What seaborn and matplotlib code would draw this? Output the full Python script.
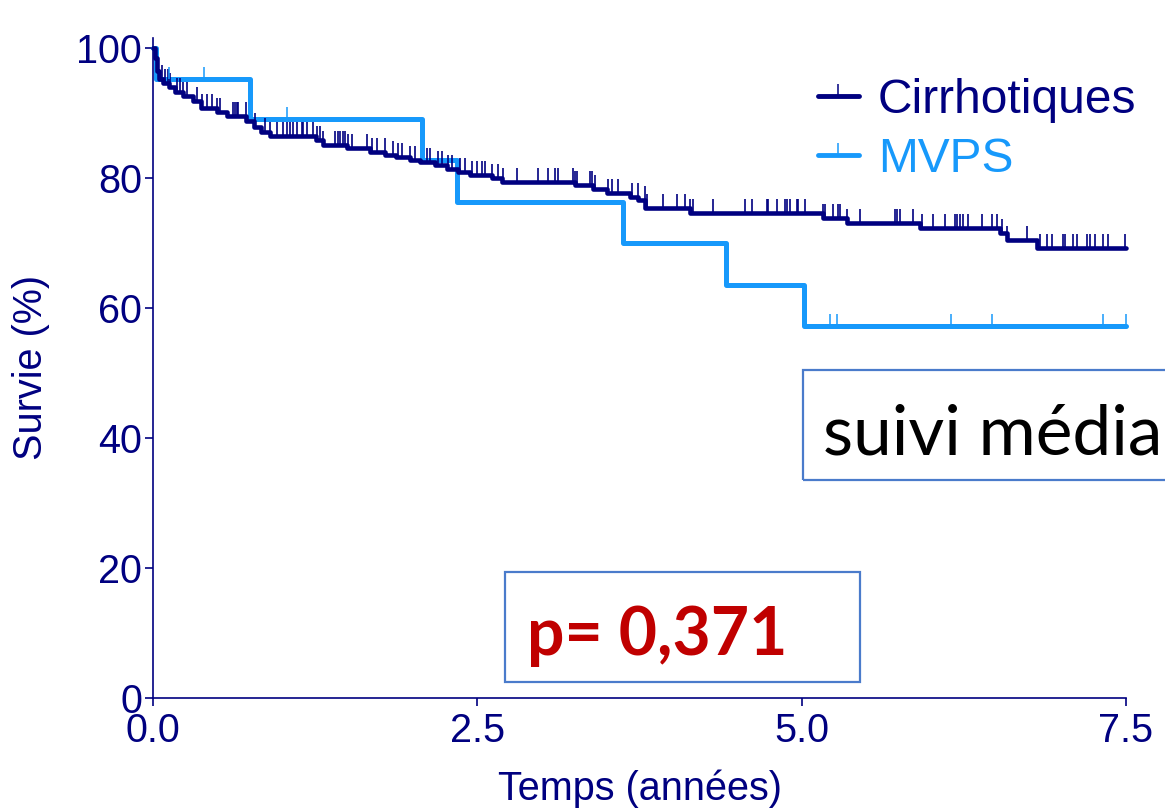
import numpy as np
import pandas as pd
import matplotlib
matplotlib.use('Agg')
import matplotlib.pyplot as plt
from matplotlib.patches import Rectangle
from matplotlib.lines import Line2D
import seaborn as sns

# Kaplan-Meier steps (time in years, survival in %)
cirr_time = [0.000, 0.015, 0.030, 0.050, 0.080, 0.120, 0.170, 0.230, 0.310, 0.370,
             0.490, 0.570, 0.720, 0.780, 0.830, 0.900, 1.260, 1.310, 1.495, 1.673,
             1.790, 1.870, 1.980, 2.060, 2.170, 2.270, 2.350, 2.440, 2.610, 2.690,
             3.253, 3.392, 3.500, 3.680, 3.740, 3.793, 4.139, 5.165, 5.350, 5.912,
             6.529, 6.583, 6.814, 7.500]
cirr_surv = [100.0, 98.5, 96.5, 95.2, 94.6, 94.0, 93.2, 92.6, 91.8, 90.8,
             90.1, 89.6, 88.8, 87.9, 87.1, 86.5, 85.8, 85.1, 84.6, 84.0,
             83.6, 83.2, 82.8, 82.5, 82.0, 81.4, 81.0, 80.5, 80.0, 79.4,
             78.9, 78.3, 77.7, 77.1, 76.6, 75.4, 74.6, 73.8, 73.1, 72.3,
             71.5, 70.5, 69.2, 69.2]
cirr_censor = [0.069, 0.092, 0.116, 0.131, 0.185, 0.208, 0.231, 0.262, 0.339, 0.378,
               0.416, 0.455, 0.493, 0.516, 0.617, 0.632, 0.647, 0.655, 0.717, 0.786,
               0.863, 0.902, 0.956, 1.002, 1.033, 1.056, 1.079, 1.110, 1.149, 1.156,
               1.187, 1.233, 1.264, 1.287, 1.310, 1.403, 1.426, 1.441, 1.464, 1.480,
               1.503, 1.534, 1.650, 1.688, 1.727, 1.788, 1.850, 1.889, 1.919, 1.981,
               2.020, 2.112, 2.135, 2.197, 2.228, 2.274, 2.305, 2.367, 2.405, 2.459,
               2.497, 2.536, 2.559, 2.613, 2.659, 2.698, 2.806, 2.968, 3.045, 3.099,
               3.122, 3.237, 3.253, 3.268, 3.369, 3.384, 3.407, 3.507, 3.538, 3.584,
               3.692, 3.738, 3.792, 3.808, 3.931, 4.039, 4.101, 4.139, 4.163, 4.317,
               4.563, 4.617, 4.733, 4.741, 4.810, 4.872, 4.887, 4.910, 4.964, 4.972,
               5.026, 5.165, 5.180, 5.242, 5.280, 5.296, 5.350, 5.450, 5.720, 5.735,
               5.758, 5.858, 5.928, 6.013, 6.105, 6.182, 6.198, 6.221, 6.244, 6.282,
               6.390, 6.467, 6.506, 6.544, 6.583, 6.737, 6.837, 6.891, 6.930, 7.015,
               7.030, 7.092, 7.122, 7.200, 7.223, 7.261, 7.323, 7.361, 7.492]

mvps_time = [0.000, 0.020, 0.750, 2.070, 2.340, 3.620, 4.420, 5.020, 7.500]
mvps_surv = [100.0, 95.2, 89.1, 82.8, 76.3, 70.0, 63.5, 57.2, 57.2]
mvps_censor = [0.12, 0.39, 1.03, 5.22, 5.27, 6.15, 6.47, 7.32, 7.50]

groups = ['Cirrhotiques', 'MVPS']
NAVY = '#000080'
LIGHT = '#1799FB'
BOX = '#4A7BCB'
W, H = 1165, 808


def fx(px):
    return px / W


def fy(py):
    return 1 - py / H


def surv_at(times, surv, t):
    idx = np.searchsorted(times, t, side='right') - 1
    return np.asarray(surv)[idx]


sns.set_theme(style='ticks')
plt.rcParams['font.family'] = ['Liberation Sans', 'DejaVu Sans']

fig = plt.figure(figsize=(W / 100, H / 100), dpi=100)
ax = fig.add_axes([fx(153), fy(698), fx(1126) - fx(153), fy(37.6) - fy(698)])

df = pd.concat([
    pd.DataFrame({'t': cirr_time, 's': cirr_surv, 'g': groups[0]}),
    pd.DataFrame({'t': mvps_time, 's': mvps_surv, 'g': groups[1]}),
])
sns.lineplot(data=df[df.g == groups[1]], x='t', y='s', color=LIGHT, lw=3.6,
             drawstyle='steps-post', estimator=None, sort=False, ax=ax, clip_on=False)
sns.lineplot(data=df[df.g == groups[0]], x='t', y='s', color=NAVY, lw=3.3,
             drawstyle='steps-post', estimator=None, sort=False, ax=ax, clip_on=False)

ax.plot(cirr_censor, surv_at(cirr_time, cirr_surv, cirr_censor), ls='none',
        marker=2, ms=10, mew=1.2, color=NAVY, clip_on=False)
ax.plot(mvps_censor, surv_at(mvps_time, mvps_surv, mvps_censor), ls='none',
        marker=2, ms=9, mew=1.1, color=LIGHT, clip_on=False)

ax.set_xlim(0, 7.5)
ax.set_ylim(0, 101.6)
ax.set_xticks([0, 2.5, 5.0, 7.5])
ax.set_xticklabels(['0.0', '2.5', '5.0', '7.5'])
ax.set_yticks([0, 20, 40, 60, 80, 100])
sns.despine(ax=ax)
for sp in ['left', 'bottom']:
    ax.spines[sp].set_color(NAVY)
    ax.spines[sp].set_linewidth(1.2)
ax.tick_params(axis='both', colors=NAVY, labelcolor=NAVY, labelsize=28.5,
               length=6, width=1.2, pad=2)
ax.tick_params(axis='x', pad=4)
ax.set_xlabel('Temps (années)', fontsize=28.5, color=NAVY, labelpad=14)
ax.set_ylabel('Survie (%)', fontsize=28.5, color=NAVY, labelpad=19)

handles = [Line2D([], [], color=NAVY, lw=3.5, marker=2, ms=9, mew=1.1,
                  solid_capstyle='round'),
           Line2D([], [], color=LIGHT, lw=3.5, marker=2, ms=9, mew=1.1,
                  solid_capstyle='round')]
leg = fig.legend(handles, groups, loc='center left', bbox_to_anchor=(fx(818), fy(130)),
                 frameon=False, fontsize=34.5, handlelength=0.85, handletextpad=0.4,
                 labelspacing=0.3, borderpad=0, borderaxespad=0, numpoints=1)
for txt, c in zip(leg.get_texts(), [NAVY, LIGHT]):
    txt.set_color(c)

# annotation boxes
fig.patches.append(Rectangle((fx(505), fy(682)), fx(860) - fx(505), fy(572) - fy(682),
                             transform=fig.transFigure, fill=False, ec=BOX, lw=1.6))
fig.text(fx(527), fy(655), 'p= 0,371', color='#C00000', fontsize=47.5,
         fontweight='bold', family='Lato', ha='left', va='baseline')
fig.patches.append(Rectangle((fx(803), fy(480)), fx(1260) - fx(803), fy(370) - fy(480),
                             transform=fig.transFigure, fill=False, ec=BOX, lw=1.6))
fig.text(fx(823), fy(455), 'suivi média', color='black', fontsize=50,
         family='Lato', ha='left', va='baseline')

fig.savefig('out.png', dpi=100)
